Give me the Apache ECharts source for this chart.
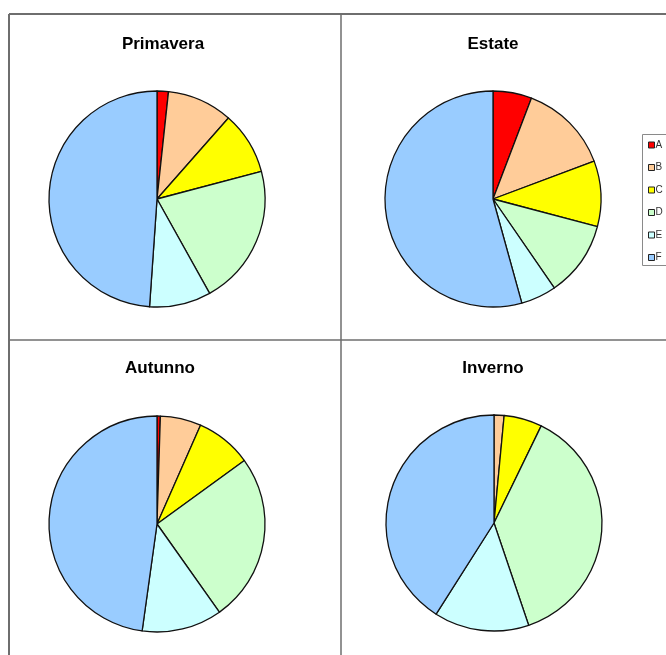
<!DOCTYPE html>
<html>
<head>
<meta charset="utf-8">
<script src="https://cdn.jsdelivr.net/npm/echarts@6/dist/echarts.min.js"></script>
<style>
  html, body { margin: 0; padding: 0; background: #ffffff; }
  #chart { width: 666px; height: 655px; }
</style>
</head>
<body>
<div id="chart"></div>
<script>
// Categories shared by all four seasonal pies
const categories = ['A', 'B', 'C', 'D', 'E', 'F'];
const seasons = ['Primavera', 'Estate', 'Autunno', 'Inverno'];

// Percent share of each category per season
const primavera = [1.7, 9.8, 9.4, 21.0, 9.2, 48.9];
const estate    = [5.8, 13.5, 9.8, 11.3, 5.3, 54.3];
const autunno   = [0.5, 6.1, 8.4, 25.2, 12.0, 47.8];
const inverno   = [0.0, 1.5, 5.7, 37.6, 14.2, 41.0];

const palette = ['#FF0000', '#FFCC99', '#FFFF00', '#CCFFCC', '#CCFFFF', '#99CCFF'];

const seasonValues = [primavera, estate, autunno, inverno];
const centers = [[157, 199], [493, 199], [157, 524], [494, 523]];
const titlePos = [[163, 36], [493, 36], [160, 360], [493, 360]];

const chart = echarts.init(document.getElementById('chart'), null, { renderer: 'canvas' });

const series = seasonValues.map((vals, i) => ({
  type: 'pie',
  name: seasons[i],
  center: centers[i],
  radius: 108,
  startAngle: 90,
  clockwise: true,
  animation: false,
  silent: true,
  label: { show: false },
  labelLine: { show: false },
  itemStyle: { borderColor: '#111111', borderWidth: 1.3 },
  data: categories.map((c, k) => ({ name: c, value: vals[k] }))
}));

const gridColor = '#6e6e6e';

chart.setOption({
  color: palette,
  animation: false,
  title: seasons.map((s, i) => ({
    text: s,
    left: titlePos[i][0],
    top: titlePos[i][1],
    padding: 0,
    textAlign: 'center',
    textStyle: { fontFamily: 'Liberation Sans, Arial', fontWeight: 'bold', fontSize: 17, color: '#000000' }
  })),
  legend: {
    data: categories,
    orient: 'vertical',
    left: 648,
    top: 140,
    icon: 'rect',
    itemWidth: 6,
    itemHeight: 6,
    itemGap: 12.5,
    padding: 0,
    textStyle: { fontFamily: 'Liberation Sans, Arial', fontSize: 10, color: '#333333', padding: [0, 0, 0, -4] },
    itemStyle: { borderColor: '#222222', borderWidth: 1 }
  },
  series: series,
  graphic: [
    // outer frame (top and left edges) and the two dividers between panels
    { type: 'line', shape: { x1: 9, y1: 14, x2: 666, y2: 14 }, style: { stroke: gridColor, lineWidth: 2 }, silent: true },
    { type: 'line', shape: { x1: 9, y1: 14, x2: 9, y2: 655 }, style: { stroke: gridColor, lineWidth: 2 }, silent: true },
    { type: 'line', shape: { x1: 341, y1: 14, x2: 341, y2: 655 }, style: { stroke: gridColor, lineWidth: 1.5 }, silent: true },
    { type: 'line', shape: { x1: 9, y1: 340, x2: 666, y2: 340 }, style: { stroke: gridColor, lineWidth: 1.5 }, silent: true },
    // legend box
    { type: 'rect', shape: { x: 642.5, y: 134.5, width: 40, height: 131 }, style: { fill: 'none', stroke: '#8a8a8a', lineWidth: 1 }, silent: true, z: -1 }
  ]
});
</script>
</body>
</html>
